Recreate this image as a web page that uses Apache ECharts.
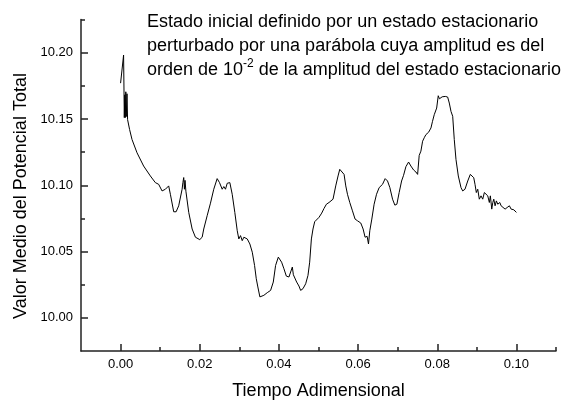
<!DOCTYPE html>
<html>
<head>
<meta charset="utf-8">
<script src="https://cdn.jsdelivr.net/npm/echarts@6/dist/echarts.min.js"></script>
<style>
  html, body { margin: 0; padding: 0; background: #fff; }
  #chart { width: 574px; height: 405px; }
</style>
</head>
<body>
<div id="chart"></div>
<script>
// Tiempo adimensional (eje x) y valor medio del potencial total (eje y)
const tiempo = [
  0.00000, 0.00076, 0.00094, 0.00106, 0.00119, 0.00132, 0.00144, 0.00162, 0.00177, 0.00203,
  0.00228, 0.00289, 0.00415, 0.00582, 0.00752, 0.00878, 0.00962, 0.01048, 0.01132, 0.01215,
  0.01258, 0.01342, 0.01403, 0.01468, 0.01554, 0.01575, 0.01595, 0.01613, 0.01628, 0.01650,
  0.01722, 0.01808, 0.01891, 0.02000, 0.02061, 0.02101, 0.02187, 0.02271, 0.02354, 0.02440,
  0.02499, 0.02567, 0.02608, 0.02650, 0.02694, 0.02760, 0.02820, 0.02886, 0.02947, 0.02987,
  0.03030, 0.03073, 0.03114, 0.03157, 0.03200, 0.03266, 0.03327, 0.03385, 0.03428, 0.03468,
  0.03519, 0.03562, 0.03620, 0.03706, 0.03790, 0.03858, 0.03916, 0.03985, 0.04025, 0.04068,
  0.04127, 0.04187, 0.04253, 0.04296, 0.04339, 0.04365, 0.04405, 0.04448, 0.04506, 0.04549,
  0.04608, 0.04676, 0.04734, 0.04777, 0.04820, 0.04861, 0.04904, 0.04954, 0.05013, 0.05081,
  0.05139, 0.05200, 0.05266, 0.05309, 0.05367, 0.05435, 0.05494, 0.05537, 0.05587, 0.05646,
  0.05689, 0.05732, 0.05790, 0.05858, 0.05924, 0.05985, 0.06068, 0.06127, 0.06177, 0.06228,
  0.06263, 0.06296, 0.06347, 0.06405, 0.06466, 0.06532, 0.06618, 0.06684, 0.06744, 0.06803,
  0.06871, 0.06929, 0.06980, 0.07038, 0.07099, 0.07149, 0.07208, 0.07276, 0.07334, 0.07403,
  0.07461, 0.07504, 0.07544, 0.07587, 0.07630, 0.07671, 0.07714, 0.07782, 0.07841, 0.07880,
  0.07924, 0.07985, 0.08025, 0.08056, 0.08094, 0.08124, 0.08152, 0.08203, 0.08263, 0.08304,
  0.08347, 0.08390, 0.08430, 0.08473, 0.08532, 0.08600, 0.08643, 0.08701, 0.08770, 0.08835,
  0.08878, 0.08922, 0.08954, 0.08987, 0.09023, 0.09063, 0.09106, 0.09149, 0.09190, 0.09233,
  0.09276, 0.09316, 0.09342, 0.09377, 0.09403, 0.09428, 0.09461, 0.09494, 0.09529, 0.09580,
  0.09613, 0.09656, 0.09714, 0.09765, 0.09823, 0.09866, 0.09934, 0.10000
];

const potencial = [
  10.1770, 10.1982, 10.1510, 10.1682, 10.1510, 10.1705, 10.1518, 10.1690, 10.1495, 10.1510,
  10.1420, 10.1345, 10.1245, 10.1145, 10.1070, 10.1020, 10.1007, 10.0957, 10.0970, 10.0995,
  10.0932, 10.0800, 10.0800, 10.0845, 10.0970, 10.1022, 10.1058, 10.0970, 10.1037, 10.0955,
  10.0795, 10.0670, 10.0608, 10.0590, 10.0608, 10.0670, 10.0770, 10.0865, 10.0970, 10.1050,
  10.1020, 10.0970, 10.0990, 10.0970, 10.1015, 10.1020, 10.0932, 10.0795, 10.0657, 10.0595,
  10.0620, 10.0582, 10.0608, 10.0620, 10.0595, 10.0557, 10.0495, 10.0395, 10.0295, 10.0233,
  10.0158, 10.0145, 10.0170, 10.0190, 10.0207, 10.0270, 10.0395, 10.0458, 10.0465, 10.0420,
  10.0370, 10.0315, 10.0308, 10.0295, 10.0383, 10.0325, 10.0340, 10.0270, 10.0240, 10.0207,
  10.0220, 10.0257, 10.0320, 10.0420, 10.0595, 10.0670, 10.0725, 10.0740, 10.0758, 10.0790,
  10.0825, 10.0857, 10.0870, 10.0857, 10.0895, 10.0995, 10.1070, 10.1120, 10.1127, 10.1082,
  10.0995, 10.0932, 10.0870, 10.0807, 10.0745, 10.0732, 10.0715, 10.0670, 10.0608, 10.0615,
  10.0557, 10.0657, 10.0745, 10.0857, 10.0932, 10.0982, 10.1007, 10.1050, 10.1032, 10.0982,
  10.0895, 10.0850, 10.0857, 10.0945, 10.1032, 10.1075, 10.1140, 10.1175, 10.1145, 10.1115,
  10.1100, 10.1082, 10.1225, 10.1257, 10.1332, 10.1358, 10.1382, 10.1400, 10.1432, 10.1482,
  10.1532, 10.1582, 10.1675, 10.1652, 10.1657, 10.1667, 10.1652, 10.1670, 10.1665, 10.1620,
  10.1557, 10.1520, 10.1345, 10.1195, 10.1070, 10.0982, 10.0957, 10.0970, 10.1032, 10.1082,
  10.1095, 10.1057, 10.1007, 10.0945, 10.0970, 10.0895, 10.0920, 10.0895, 10.0945, 10.0950,
  10.0920, 10.0870, 10.0920, 10.0820, 10.0870, 10.0895, 10.0845, 10.0882, 10.0857, 10.0870,
  10.0845, 10.0832, 10.0820, 10.0832, 10.0845, 10.0820, 10.0815, 10.0795
];

// Marcas de los ejes
const xMajor = [0.00, 0.02, 0.04, 0.06, 0.08, 0.10];
const xMinor = [0.01, 0.03, 0.05, 0.07, 0.09, 0.11];
const yMajor = [10.00, 10.05, 10.10, 10.15, 10.20];
const yMinor = [10.025, 10.075, 10.125, 10.175, 10.225];

const FONT = 'Liberation Sans, Arial, sans-serif';
const AXIS_COLOR = '#222';

const serie = tiempo.map((t, i) => [t, potencial[i]]);

const chart = echarts.init(document.getElementById('chart'), null, { renderer: 'canvas' });

const tickStyle = { color: AXIS_COLOR, width: 1.5 };

chart.setOption({
  backgroundColor: '#fff',
  animation: false,
  grid: { left: 81, right: 18, top: 19.5, bottom: 52.5, containLabel: false },
  xAxis: [
    {
      type: 'value', position: 'bottom', min: -0.01, max: 0.11,
      axisLine: { show: true, onZero: false, lineStyle: tickStyle },
      axisTick: { show: true, inside: true, length: 7, customValues: xMajor, lineStyle: tickStyle },
      axisLabel: { show: true, customValues: xMajor, margin: 7,
                   formatter: v => v.toFixed(2),
                   color: '#000', fontFamily: FONT, fontSize: 13 },
      splitLine: { show: false },
      name: 'Tiempo Adimensional', nameLocation: 'middle', nameGap: 31,
      nameTextStyle: { color: '#000', fontFamily: FONT, fontSize: 18 }
    },
    {
      type: 'value', position: 'bottom', min: -0.01, max: 0.11, offset: 0,
      axisLine: { show: false, onZero: false },
      axisTick: { show: true, inside: true, length: 4, customValues: xMinor, lineStyle: tickStyle },
      axisLabel: { show: false },
      splitLine: { show: false }
    }
  ],
  yAxis: [
    {
      type: 'value', position: 'left', min: 9.975, max: 10.225,
      axisLine: { show: true, onZero: false, lineStyle: tickStyle },
      axisTick: { show: true, inside: true, length: 7, customValues: yMajor, lineStyle: tickStyle },
      axisLabel: { show: true, customValues: yMajor, margin: 8,
                   formatter: v => v.toFixed(2),
                   color: '#000', fontFamily: FONT, fontSize: 13 },
      splitLine: { show: false }
    },
    {
      type: 'value', position: 'left', min: 9.975, max: 10.225, offset: 0,
      axisLine: { show: false, onZero: false },
      axisTick: { show: true, inside: true, length: 4, customValues: yMinor, lineStyle: tickStyle },
      axisLabel: { show: false },
      splitLine: { show: false }
    }
  ],
  graphic: [
    {
      type: 'text', left: 147, top: 10,
      style: {
        text: 'Estado inicial definido por un estado estacionario\n' +
              'perturbado por una parábola cuya amplitud es del\n' +
              '{n|orden de 10}{sup|-2}{n| de la amplitud del estado estacionario}',
        fill: '#000', font: '18px ' + FONT, lineHeight: 24,
        rich: {
          n: { fontFamily: FONT, fontSize: 18, lineHeight: 24, fill: '#000' },
          sup: { fontFamily: FONT, fontSize: 12, lineHeight: 14, verticalAlign: 'top', fill: '#000' }
        }
      }
    },
    {
      type: 'text', x: 21, y: 196, rotation: Math.PI / 2,
      style: {
        text: 'Valor Medio del Potencial Total',
        fill: '#000', font: '18px ' + FONT,
        textAlign: 'center', textVerticalAlign: 'middle'
      }
    }
  ],
  series: [
    {
      type: 'line', xAxisIndex: 0, yAxisIndex: 0,
      data: serie, showSymbol: false, symbol: 'none',
      lineStyle: { color: '#000', width: 1 },
      silent: true
    }
  ]
});
</script>
</body>
</html>
